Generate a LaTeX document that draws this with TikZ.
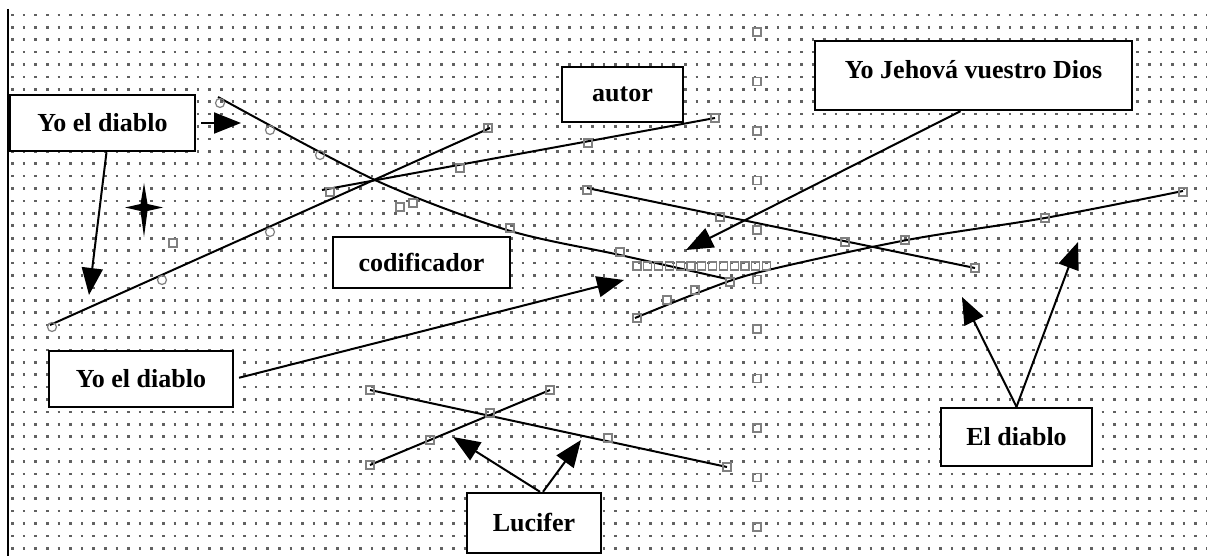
\documentclass[tikz,border=0pt]{standalone}
\usepackage{fontspec}
\setmainfont{Liberation Serif}
\usetikzlibrary{arrows.meta}
\tikzset{
  dotrow/.style={line width=2.6pt, dash pattern=on 2.6pt off 9pt, black!62},
  box/.style={draw, line width=2.4pt, fill=white, inner sep=0pt, font=\bfseries\fontsize{26}{28}\selectfont},
  ln/.style={line width=2pt},
  arr/.style={line width=2pt, -{Triangle[length=27pt,width=21pt]}},
  hs/.style={draw=black!50, line width=1.2pt, rectangle, minimum size=8pt, inner sep=0pt},
  hc/.style={draw=black!50, line width=1.2pt, circle, minimum size=9pt, inner sep=0pt}
}
\begin{document}
\begin{tikzpicture}[x=1pt,y=-1pt]
\useasboundingbox (0,0) rectangle (1207,556);
\fill[white] (0,0) rectangle (1207,556);
% dotted grid
\foreach \r in {0,...,43}
  \draw[dotrow] ({11.2},{15+12.4*\r}) -- ({1207},{15+12.4*\r});
% left border
\draw[line width=2.4pt] (8,9) -- (8,556);

% coordinates
\coordinate (l1a) at (218,97);
\coordinate (l1b) at (375,180);
\coordinate (l1c) at (507,230);
\coordinate (l1d) at (620,255);
\coordinate (l1e) at (727,279);
\coordinate (l3a) at (50,325);
\coordinate (l3b) at (490,128);
\coordinate (l4a) at (322,190);
\coordinate (l4b) at (715,118);
\coordinate (lba) at (587,188);
\coordinate (lbb) at (975,268);
\coordinate (l5a) at (635,318);
\coordinate (l5b) at (700,292);
\coordinate (l5c) at (760,272);
\coordinate (l5d) at (907,240);
\coordinate (l5e) at (1045,218);
\coordinate (l5f) at (1183,191);
\coordinate (lua) at (370,390);
\coordinate (lub) at (727,467);
\coordinate (luc) at (370,465);
\coordinate (lud) at (550,390);

% lines
\draw[ln] plot[smooth, tension=0.5] coordinates {(l1a) (l1b) (l1c) (l1d) (l1e)};
\draw[ln] (l3a) -- (l3b);
\draw[ln] (l4a) -- (l4b);
\draw[ln] (lba) -- (lbb);
\draw[ln] plot[smooth, tension=0.5] coordinates {(l5a) (l5b) (l5c) (l5d) (l5e) (l5f)};
\draw[ln] (lua) -- (lub);
\draw[ln] (luc) -- (lud);

% handles
\foreach \k in {0,...,10}
  \node[hs] (col\k) at (757,{32+49.5*\k}) {};
\foreach \k in {0,...,12}
  \node[hs] (row\k) at ({637+10.8*\k},266) {};
\foreach \p [count=\i] in {(220,103),(270,130),(320,155),(52,327),(162,280),(270,232)}
  \node[hc] (c\i) at \p {};
\foreach \p [count=\i] in {(400,207),(413,203),(510,228),(620,252),(173,243),(330,192),(488,128),
  (460,168),(588,143),(715,118),(587,190),(720,217),(845,242),(975,268),
  (637,318),(667,300),(695,290),(730,282),(905,240),(1045,218),(1183,192),
  (370,390),(490,413),(608,438),(727,467),(370,465),(430,440),(550,390)}
  \node[hs] (h\i) at \p {};

% star
\fill (144,183) -- (147.5,204) -- (163,207.5) -- (147.5,211) -- (144,237) -- (140.5,211) -- (125,207.5) -- (140.5,204) -- cycle;

% boxes
\node[box, minimum width=185pt, minimum height=56pt] (d1) at (102.5,123) {Yo el diablo};
\node[box, minimum width=121pt, minimum height=55pt] (autor) at (622.5,94.5) {autor};
\node[box, minimum width=177pt, minimum height=51pt] (codif) at (421.5,262.5) {codificador};
\node[box, minimum width=317pt, minimum height=69pt, text height=18pt, text depth=11pt] (jehova) at (973.5,75.5) {Yo Jehová vuestro Dios};
\node[box, minimum width=184pt, minimum height=56pt] (d2) at (141,379) {Yo el diablo};
\node[box, minimum width=134pt, minimum height=60pt] (lucifer) at (534,523) {Lucifer};
\node[box, minimum width=151pt, minimum height=58pt] (eldiablo) at (1016.5,437) {El diablo};

% arrow ends
\coordinate (a1) at (241,123);
\coordinate (a2) at (89,295);
\coordinate (a3) at (624,280);
\coordinate (a4) at (686,250);
\coordinate (a5) at (453,437);
\coordinate (a6) at (581,440);
\coordinate (a7) at (962,297);
\coordinate (a8) at (1078,242);

\draw[arr, shorten <=5pt] (d1.east) -- (a1);
\draw[arr] ([xshift=4pt]d1.south) -- (a2);
\draw[arr, shorten <=5pt] (d2.east) -- (a3);
\draw[arr] ([xshift=-13pt]jehova.south) -- (a4);
\draw[arr] ([xshift=6pt]lucifer.north) -- (a5);
\draw[arr] ([xshift=9pt]lucifer.north) -- (a6);
\draw[arr] (eldiablo.north) -- (a7);
\draw[arr] (eldiablo.north) -- (a8);
\end{tikzpicture}
\end{document}
